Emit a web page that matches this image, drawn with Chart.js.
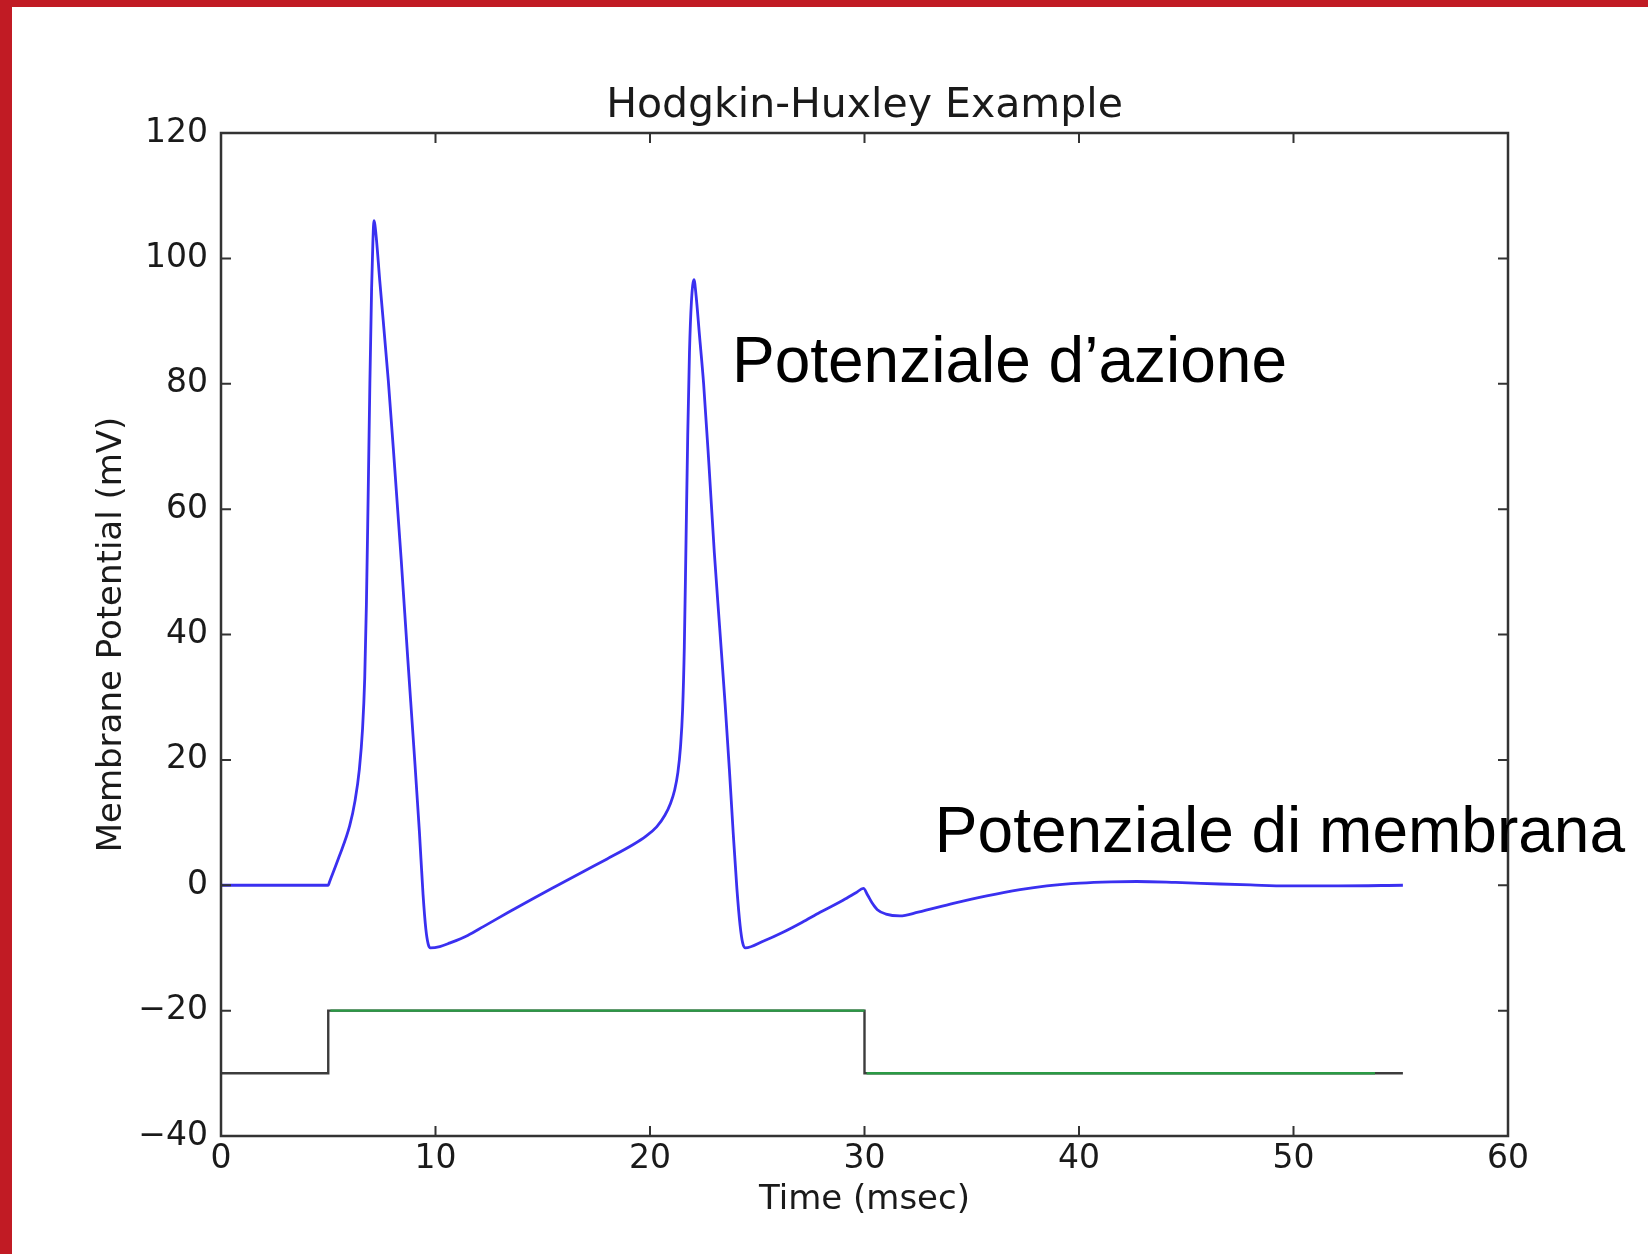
<!DOCTYPE html>
<html>
<head>
<meta charset="utf-8">
<title>Hodgkin-Huxley Example</title>
<style>
    html, body { margin: 0; padding: 0; background: #fff; }
    #wrap { position: relative; width: 1648px; height: 1254px; overflow: hidden; }
    #hhChart { position: absolute; left: 0; top: 0; }
    /* red slide edge, left and top */
    #edge { position: absolute; left: 0; top: 0; width: 1648px; height: 1254px; box-sizing: border-box;
            border-left: 12px solid #c11b24; border-top: 7px solid #c11b24; pointer-events: none; }
</style>
<script src="https://cdn.jsdelivr.net/npm/chart.js@4/dist/chart.umd.min.js"></script>
</head>
<body>
<div id="wrap">
    <canvas id="hhChart" width="1648" height="1254"></canvas>
    <div id="edge"></div>
</div>
<script>
// membrane potential trace
const timeMs = [
    0, 5.0, 5.05, 5.5, 6.0, 6.25, 6.45, 6.6, 6.7, 6.78,
    6.86, 6.94, 7.02, 7.08, 7.13, 7.22, 7.4, 7.8, 8.1, 8.4,
    8.7, 9.0, 9.25, 9.42, 9.55, 9.66, 9.76, 10.2, 10.68, 11.5,
    12.23, 13.4, 14.56, 15.7, 16.9, 18.0, 19.22, 19.8, 20.31, 20.7,
    20.95, 21.15, 21.3, 21.42, 21.52, 21.6, 21.68, 21.76, 21.84, 21.93,
    22.05, 22.15, 22.3, 22.5, 22.75, 23.0, 23.25, 23.5, 23.7, 23.88,
    24.05, 24.2, 24.32, 24.45, 25.3, 26.2, 27.1, 27.93, 29.0, 29.6,
    29.95, 30.15, 30.35, 30.6, 31.0, 31.65, 32.5, 34.14, 35.7, 37.25,
    38.5, 40.05, 41.5, 42.69, 44.5, 46.57, 48.0, 49.68, 52.1, 55.1
];
const potentialMv = [
    0, 0, 0.45, 4.5, 9.5, 13.5, 18.5, 25, 33, 45,
    62, 80, 95, 102.5, 106, 104, 96.5, 80.5, 66.5, 52,
    36.5, 21.5, 8.5, -1.5, -7, -9.4, -10, -9.8, -9.2, -8.0,
    -6.6, -4.3, -2.1, 0.0, 2.2, 4.2, 6.5, 7.8, 9.3, 11.2,
    13.0, 15.2, 18, 22, 28, 38, 55, 72, 85, 93,
    96.6, 94, 88, 80, 67, 53, 41, 29, 18.5, 8.3,
    -0.5, -6.4, -9.2, -10, -8.9, -7.5, -5.9, -4.3, -2.4, -1.2,
    -0.5, -1.6, -2.8, -3.9, -4.6, -4.9, -4.3, -2.9, -1.7, -0.7,
    -0.1, 0.35, 0.55, 0.6, 0.45, 0.2, 0.05, -0.1, -0.1, 0
];

// stimulus step, whole trace (dark)
const stimTime = [0, 5, 5, 30, 30, 55.1];
const stimLevel = [-30, -30, -20, -20, -30, -30];
// green part of the stimulus (null = gap)
const stimGreenTime = [5.1, 30, 30, 30.1, 53.8];
const stimGreenLevel = [-20, -20, null, -30, -30];

// axis ticks
const xTicks = [0, 10, 20, 30, 40, 50, 60];
const yTicks = [-40, -20, 0, 20, 40, 60, 80, 100, 120];

// overlay captions
const noteTexts = ['Potenziale d\u2019azione', 'Potenziale di membrana'];

function toPoints(xs, ys) {
    return xs.map((x, i) => ({ x: x, y: ys[i] }));
}

function minusLabel(value) {
    return value < 0 ? '\u2212' + Math.abs(value) : String(value);
}

// box round the plot with inward ticks on all four sides
const axesFrame = {
    id: 'axesFrame',
    afterDatasetsDraw(chart, args, opts) {
        const { ctx, chartArea: a, scales: { x, y } } = chart;
        const len = opts.tickLength;
        ctx.save();
        ctx.strokeStyle = opts.color;
        ctx.lineWidth = opts.tickWidth;
        ctx.beginPath();
        x.ticks.forEach(t => {
            const px = x.getPixelForValue(t.value);
            ctx.moveTo(px, a.bottom); ctx.lineTo(px, a.bottom - len);
            ctx.moveTo(px, a.top); ctx.lineTo(px, a.top + len);
        });
        y.ticks.forEach(t => {
            const py = y.getPixelForValue(t.value);
            ctx.moveTo(a.left, py); ctx.lineTo(a.left + len, py);
            ctx.moveTo(a.right, py); ctx.lineTo(a.right - len, py);
        });
        ctx.stroke();
        ctx.lineWidth = opts.width;
        ctx.strokeRect(a.left, a.top, a.right - a.left, a.bottom - a.top);
        ctx.restore();
    }
};

// big captions placed in data units
const captions = {
    id: 'captions',
    afterDraw(chart, args, opts) {
        const { ctx, scales: { x, y } } = chart;
        ctx.save();
        ctx.font = opts.font;
        ctx.fillStyle = opts.color;
        ctx.textAlign = 'left';
        ctx.textBaseline = 'alphabetic';
        opts.items.forEach(item => {
            ctx.fillText(item.text, x.getPixelForValue(item.at[0]), y.getPixelForValue(item.at[1]));
        });
        ctx.restore();
    }
};

document.addEventListener("DOMContentLoaded", function() {
    const tickFont = { family: '"DejaVu Sans", sans-serif', size: 33 };
    const labelFont = { family: '"DejaVu Sans", sans-serif', size: 34 };

    const ctx = document.getElementById('hhChart').getContext('2d');
    // lower index is drawn on top: blue, then green, then the dark step
    new Chart(ctx, {
        type: 'line',
        data: {
            datasets: [
                {
                    label: 'V',
                    data: toPoints(timeMs, potentialMv),
                    borderColor: '#3a30f0',
                    borderWidth: 2.8,
                    borderJoinStyle: 'round',
                    cubicInterpolationMode: 'monotone',
                    pointRadius: 0
                },
                {
                    label: 'stimulus (green)',
                    data: toPoints(stimGreenTime, stimGreenLevel),
                    borderColor: '#2a9a45',
                    borderWidth: 2.4,
                    pointRadius: 0,
                    spanGaps: false,
                    tension: 0
                },
                {
                    label: 'stimulus',
                    data: toPoints(stimTime, stimLevel),
                    borderColor: '#3c3c3c',
                    borderWidth: 2.4,
                    pointRadius: 0,
                    tension: 0
                }
            ]
        },
        options: {
            responsive: false,
            animation: false,
            devicePixelRatio: 1,
            layout: { padding: { left: 0, right: 140, top: 70, bottom: 0 } },
            plugins: {
                legend: { display: false },
                tooltip: { enabled: false },
                title: {
                    display: true,
                    text: 'Hodgkin-Huxley Example',
                    fullSize: false,
                    color: '#1a1a1a',
                    font: { family: '"DejaVu Sans", sans-serif', size: 41, weight: 'normal', lineHeight: 1.2 },
                    padding: { top: 11.9, bottom: 1.9 }
                },
                axesFrame: { color: '#333333', width: 2.5, tickWidth: 2, tickLength: 10 },
                captions: {
                    font: '64px "Liberation Sans", Arial, sans-serif',
                    color: '#000000',
                    items: [
                        { text: noteTexts[0], at: [23.82, 80.3] },
                        { text: noteTexts[1], at: [33.28, 5.3] }
                    ]
                }
            },
            scales: {
                x: {
                    type: 'linear',
                    min: 0,
                    max: 60,
                    afterBuildTicks: scale => { scale.ticks = xTicks.map(v => ({ value: v })); },
                    afterFit: scale => { scale.height = 118; },
                    grid: { display: false, drawTicks: false },
                    border: { display: false },
                    ticks: { autoSkip: false, maxRotation: 0, padding: 4, color: '#1a1a1a', font: tickFont, callback: minusLabel },
                    title: { display: true, text: 'Time (msec)', color: '#1a1a1a', font: labelFont, padding: { bottom: 33 } }
                },
                y: {
                    type: 'linear',
                    min: -40,
                    max: 120,
                    afterBuildTicks: scale => { scale.ticks = yTicks.map(v => ({ value: v })); },
                    afterFit: scale => { scale.width = 221; },
                    grid: { display: false, drawTicks: false },
                    border: { display: false },
                    ticks: { autoSkip: false, padding: 13, color: '#1a1a1a', font: tickFont, callback: minusLabel },
                    title: { display: true, text: 'Membrane Potential (mV)', color: '#1a1a1a', font: labelFont, padding: { top: 92 } }
                }
            }
        },
        plugins: [axesFrame, captions]
    });
});
</script>
</body>
</html>
